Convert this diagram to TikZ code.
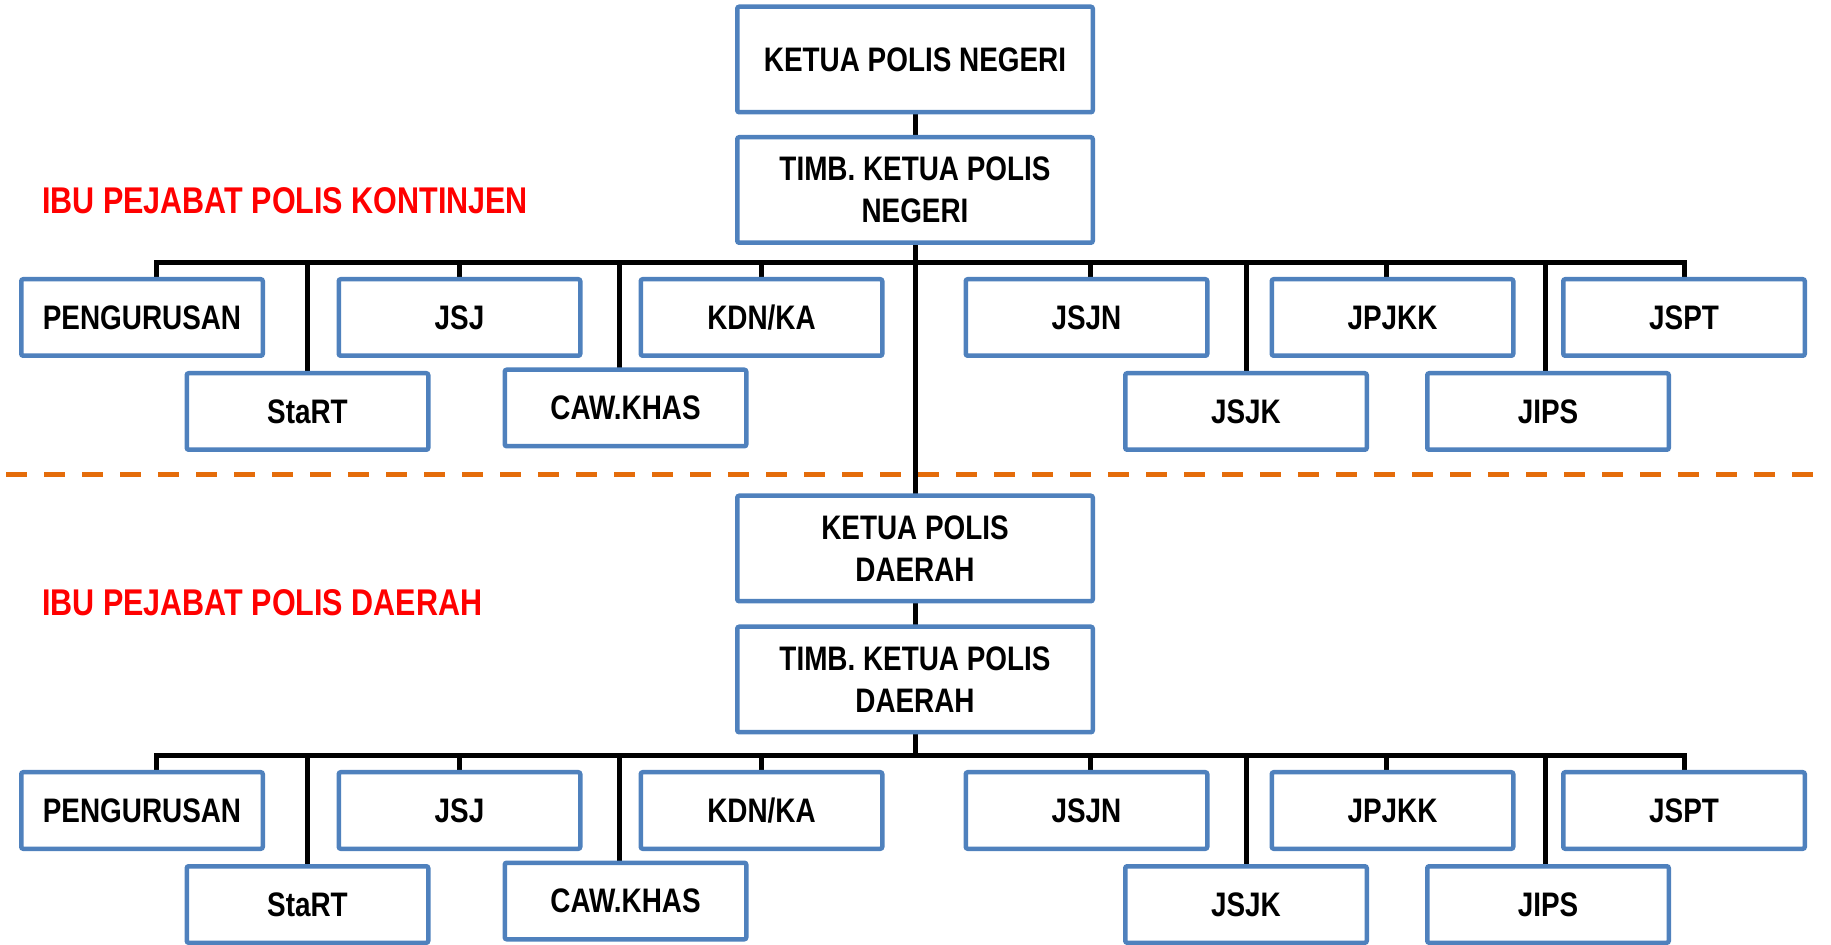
\documentclass[tikz,border=0pt]{standalone}
\usepackage{fontspec}
\setmainfont{Liberation Sans}[FakeStretch=0.82]
\usetikzlibrary{backgrounds}
\definecolor{boxblue}{HTML}{4F81BD}
\definecolor{lineorange}{HTML}{E46C0A}
\begin{document}
\begin{tikzpicture}[x=0.5pt,y=-0.5pt,
    unitbox/.style={draw=boxblue,line width=2.25pt,rounded corners=1pt,fill=white,
      minimum width=120.75pt,minimum height=38.25pt,inner sep=0pt,align=center,
      font=\bfseries\fontsize{17}{20.7}\selectfont},
    chief/.style={unitbox,minimum width=177.75pt,minimum height=52.75pt},
    wire/.style={line width=2.5pt,line cap=rect,black},
    sectlabel/.style={text=red,anchor=west,inner sep=0pt,
      font=\bfseries\fontsize{18.6}{22}\selectfont}]
    \useasboundingbox (0,0) rectangle (1831,945);
    % divider
    \begin{scope}[on background layer]
        \draw[lineorange,line width=2.5pt,dash pattern=on 10.5pt off 8.5pt] (6,475) -- (1828,475);
    \end{scope}
    % heads
    \node[chief] (kpn) at (915,59.5) {KETUA POLIS NEGERI};
    \node[chief] (tkpn) at (915,190) {TIMB. KETUA POLIS\\NEGERI};
    \node[chief] (kpd) at (915,548.5) {KETUA POLIS\\DAERAH};
    \node[chief] (tkpd) at (915,679.5) {TIMB. KETUA POLIS\\DAERAH};
    \node[sectlabel] (ipk) at (41.7,201) {IBU PEJABAT POLIS KONTINJEN};
    \node[sectlabel] (ipd) at (41.7,603) {IBU PEJABAT POLIS DAERAH};
    \begin{scope}[on background layer]
        \draw[wire] (kpn) -- (tkpn);
        \draw[wire] (tkpn) -- (kpd);
        \draw[wire] (kpd) -- (tkpd);
    \end{scope}
    % departments
    \foreach \s/\dy/\top in {a/0/tkpn, b/493/tkpd} {
        \node[unitbox] (peng\s) at (142,317.5+\dy) {PENGURUSAN};
        \node[unitbox] (start\s) at (307.5,411.5+\dy) {StaRT};
        \node[unitbox] (jsj\s) at (459.5,317.5+\dy) {JSJ};
        \node[unitbox] (caw\s) at (625.5,408+\dy) {CAW.KHAS};
        \node[unitbox] (kdn\s) at (761.5,317.5+\dy) {KDN/KA};
        \node[unitbox] (jsjn\s) at (1086.5,317.5+\dy) {JSJN};
        \node[unitbox] (jsjk\s) at (1246,411.5+\dy) {JSJK};
        \node[unitbox] (jpjkk\s) at (1392.5,317.5+\dy) {JPJKK};
        \node[unitbox] (jips\s) at (1548,411.5+\dy) {JIPS};
        \node[unitbox] (jspt\s) at (1684,317.5+\dy) {JSPT};
        \coordinate (bar\s) at (0,263+\dy);
        \begin{scope}[on background layer]
            \draw[wire] (\top) -- (\top |- bar\s);
            \draw[wire] ([xshift=7pt]peng\s.north |- bar\s) -- (jspt\s.north |- bar\s);
            \foreach \n/\dx in {peng/7,start/0,jsj/0,caw/-3,kdn/0,jsjn/2,jsjk/0,jpjkk/-3,jips/-1.5,jspt/0}
                \draw[wire] ([xshift=\dx pt]\n\s.north |- bar\s) -- ([xshift=\dx pt]\n\s.north);
        \end{scope}
    }
\end{tikzpicture}
\end{document}
